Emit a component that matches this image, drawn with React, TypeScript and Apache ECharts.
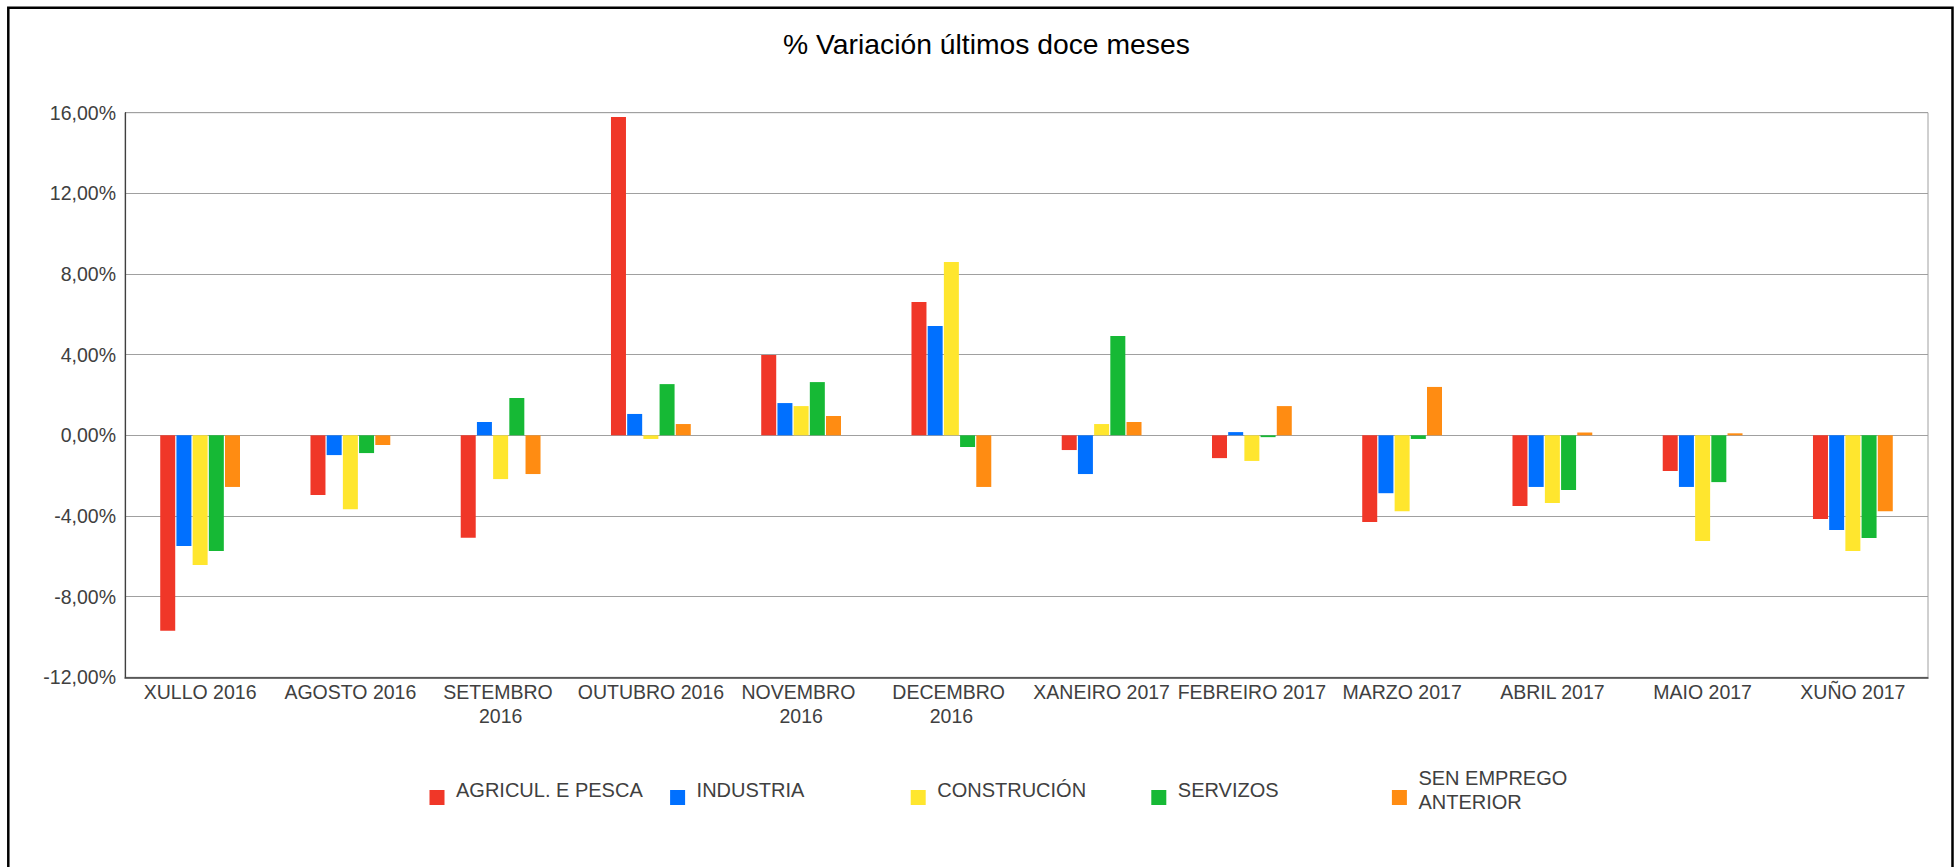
import React, { useEffect, useRef } from "react";
import * as echarts from "echarts";

const categories = [
  "XULLO 2016",
  "AGOSTO 2016",
  "SETEMBRO 2016",
  "OUTUBRO 2016",
  "NOVEMBRO 2016",
  "DECEMBRO 2016",
  "XANEIRO 2017",
  "FEBREIRO 2017",
  "MARZO 2017",
  "ABRIL 2017",
  "MAIO 2017",
  "XUÑO 2017",
];

const seriesNames = [
  "AGRICUL. E PESCA",
  "INDUSTRIA",
  "CONSTRUCIÓN",
  "SERVIZOS",
  "SEN EMPREGO ANTERIOR",
];

const agricultura = [-9.69, -2.96, -5.08, 15.79, 3.98, 6.61, -0.73, -1.13, -4.3, -3.51, -1.77, -4.15];
const industria = [-5.49, -0.98, 0.66, 1.06, 1.6, 5.42, -1.92, 0.16, -2.87, -2.56, -2.56, -4.7];
const construcion = [-6.43, -3.66, -2.17, -0.18, 1.45, 8.6, 0.56, -1.27, -3.76, -3.36, -5.24, -5.74];
const servizos = [-5.74, -0.88, 1.85, 2.54, 2.64, -0.58, 4.93, -0.09, -0.18, -2.71, -2.32, -5.09];
const senEmprego = [-2.56, -0.48, -1.92, 0.56, 0.96, -2.56, 0.66, 1.45, 2.4, 0.14, 0.1, -3.76];

const yMin = -12;
const yMax = 16;
const yInterval = 4;

const titleText = "% Variación últimos doce meses";

const colors = ["#F03728", "#0070FF", "#FFE62E", "#16B935", "#FF8C12"];

// legend marker: a 15x15 square sitting in the lower half of a 15x30 box
const legendIcon = "path://M0,0L0,0ZM0,15L15,15L15,30L0,30Z";

export default function App() {
  const ref = useRef<HTMLDivElement>(null);

  useEffect(() => {
    if (!ref.current) return;
    const chart = echarts.init(ref.current, null, { renderer: "svg" });
    const font = "'Liberation Sans', Arial, sans-serif";
    const seriesData = [agricultura, industria, construcion, servizos, senEmprego];

    chart.setOption({
      animation: false,
      backgroundColor: "#ffffff",
      title: {
        text: titleText,
        left: 783,
        top: 30,
        padding: 0,
        textStyle: {
          fontFamily: font,
          fontSize: 28.3,
          fontWeight: "normal",
          color: "#000000",
        },
      },
      graphic: [
        {
          type: "rect",
          silent: true,
          z: -10,
          shape: { x: 8.3, y: 7.7, width: 1944.2, height: 900 },
          style: { fill: "none", stroke: "#000000", lineWidth: 2.5 },
        },
      ],
      legend: {
        data: seriesNames,
        left: 429.5,
        top: 766,
        padding: 0,
        orient: "horizontal",
        icon: legendIcon,
        itemWidth: 15,
        itemHeight: 30,
        itemGap: 14.1,
        textStyle: {
          fontFamily: font,
          fontSize: 20,
          color: "#404040",
          lineHeight: 24,
          width: 200,
          overflow: "break",
          padding: [0, 0, 0, 6.5],
          backgroundColor: "rgba(255,255,255,0)",
        },
      },
      grid: {
        left: 125,
        top: 112.7,
        width: 1803,
        height: 564.6,
        show: true,
        borderColor: "#a0a0a0",
        borderWidth: 1,
      },
      xAxis: {
        type: "category",
        data: categories,
        axisLine: { onZero: false, lineStyle: { color: "#404040", width: 1.5 } },
        axisTick: { inside: true, length: 7, lineStyle: { color: "#404040", width: 1.2 } },
        axisLabel: {
          interval: 0,
          color: "#404040",
          fontFamily: font,
          fontSize: 19.5,
          lineHeight: 24,
          margin: 2.5,
          width: 153,
          overflow: "break",
        },
        splitLine: { show: false },
      },
      yAxis: {
        type: "value",
        min: yMin,
        max: yMax,
        interval: yInterval,
        axisLine: { show: true, lineStyle: { color: "#404040", width: 1.2 } },
        axisTick: { show: false },
        splitLine: { show: true, lineStyle: { color: "#a0a0a0", width: 1 } },
        axisLabel: {
          color: "#404040",
          fontFamily: font,
          fontSize: 19.5,
          margin: 9,
          padding: [0, 0, 6, 0],
          formatter: (v: number) => v.toFixed(2).replace(".", ",") + "%",
        },
      },
      series: seriesNames.map((name, i) => ({
        type: "bar",
        name,
        data: seriesData[i],
        barWidth: 15,
        barGap: "8%",
        itemStyle: { color: colors[i] },
      })),
    });

    return () => {
      chart.dispose();
    };
  }, []);

  return (
    <div
      ref={ref}
      style={{ position: "fixed", left: 0, top: 0, width: 1958, height: 867, background: "#fff" }}
    />
  );
}
